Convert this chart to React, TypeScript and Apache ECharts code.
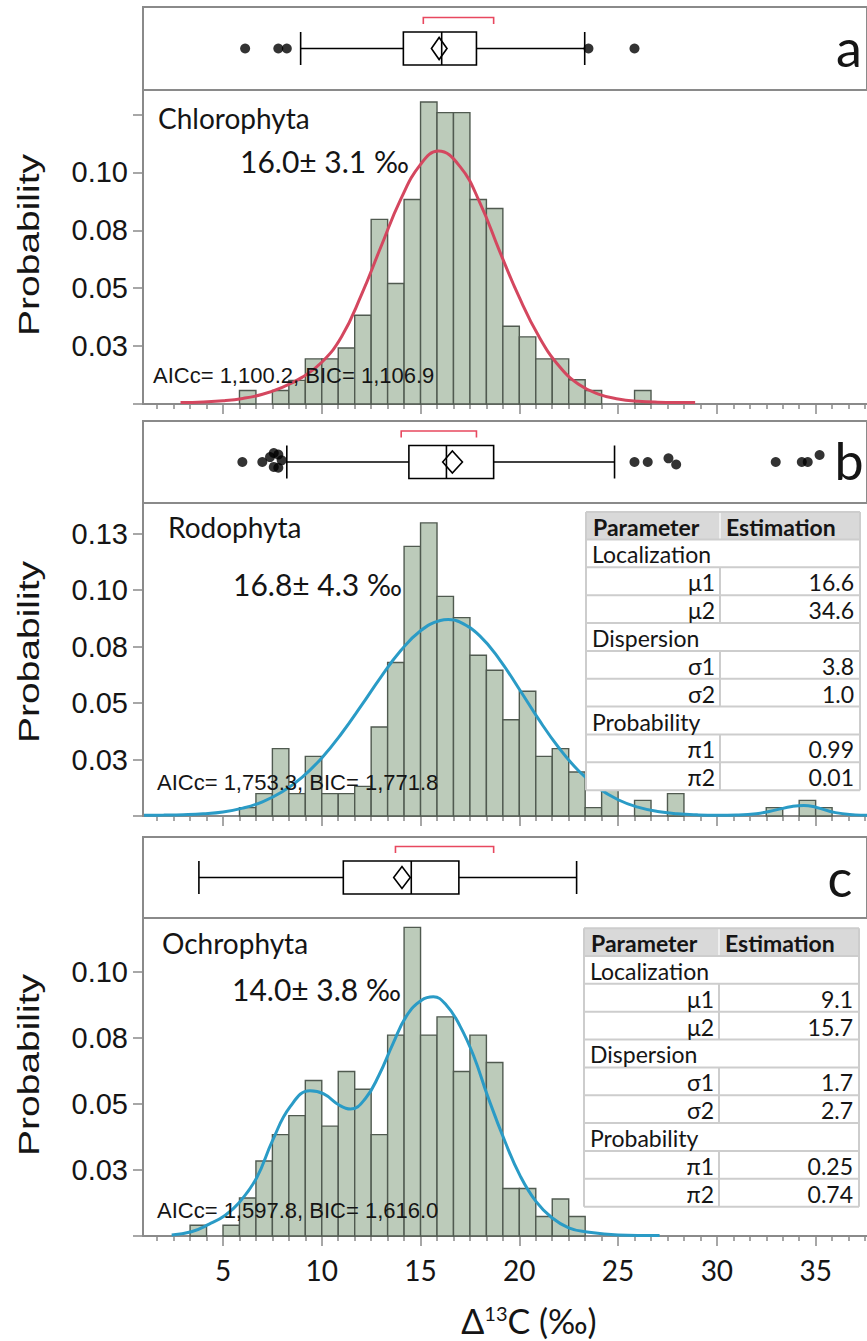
import React, { useEffect, useRef } from 'react';
import * as echarts from 'echarts';

// ---------- shared axis data ----------
const BIN_WIDTH = 5 / 6;
const X_MIN = 0.95;
const X_MAX = 37.6;
const MAJOR_TICKS = [5, 10, 15, 20, 25, 30, 35];
const MINOR_TICKS: number[] = [];
for (let k = 2; k * BIN_WIDTH <= X_MAX; k++) if (k % 6 !== 0) MINOR_TICKS.push(k * BIN_WIDTH);

// ---------- panel a : Chlorophyta ----------
const firstBinA = 7;
const probA = [0.0058, 0, 0.0058, 0.0102, 0.0195, 0.0195, 0.0242, 0.0383, 0.0797, 0.052, 0.0883, 0.1304, 0.1258, 0.1258,
  0.0883, 0.0844, 0.0336, 0.029, 0.0195, 0.0195, 0.0105, 0.0058, 0, 0, 0.0058];
const curveA = [[2.85, 0.0006], [4, 0.0009], [5, 0.0014], [6, 0.0024], [7, 0.0042], [8, 0.0072], [9, 0.0115],
  [10, 0.018], [11, 0.029], [12, 0.047], [13, 0.068], [14, 0.0885], [15, 0.1035], [15.9, 0.1092], [17, 0.1025],
  [18, 0.087], [19, 0.066], [20, 0.046], [21, 0.029], [22, 0.0165], [23, 0.0085], [24, 0.0043], [25, 0.0022],
  [26, 0.0012], [27, 0.0008], [28.9, 0.0006]];
// whiskerLow, q1, median, q3, whiskerHigh, mean, ciLow, ciHigh, shortestHalfLow, shortestHalfHigh
const boxA = [8.93, 14.13, 16.07, 17.83, 23.31, 15.94, 15.55, 16.34, 15.14, 18.7];
const outliersA = [[6.12, 0.5], [7.8, 0.5], [8.23, 0.5], [23.5, 0.5], [25.83, 0.5]];

// ---------- panel b : Rodophyta ----------
const firstBinB = 7;
const probB = [0.0037, 0.0099, 0.0298, 0.0099, 0.0264, 0.0099, 0.0099, 0.0131, 0.0394, 0.0679, 0.1193, 0.1297, 0.0972,
  0.0878, 0.0711, 0.0645, 0.0426, 0.0552, 0.0264, 0.0298, 0.0195, 0.0037, 0.0131, 0, 0.0069, 0, 0.0099, 0, 0, 0, 0, 0,
  0.0037, 0, 0.0069, 0.0037];
const curveB = [[1.0, 0.0003], [2, 0.0004], [3, 0.0006], [4, 0.001], [5, 0.0018], [6, 0.0035], [7, 0.0063],
  [8, 0.0107], [9, 0.0171], [10, 0.0257], [11, 0.0365], [12, 0.0488], [13, 0.0616], [14, 0.0732], [15, 0.082],
  [16, 0.0865], [16.4, 0.0869], [17, 0.0858], [18, 0.0797], [19, 0.0692], [20, 0.0561], [21, 0.0425], [22, 0.0302],
  [23, 0.02], [24, 0.0124], [25, 0.0072], [26, 0.0039], [27, 0.002], [28, 0.001], [29, 0.0005], [30, 0.0003],
  [31, 0.0004], [32, 0.001], [33, 0.0027], [33.8, 0.0042], [34.4, 0.0047], [35, 0.0039], [36, 0.0015], [37, 0.0005],
  [37.6, 0.0003]];
const boxB = [8.23, 14.41, 16.31, 18.7, 24.82, 16.61, 16.12, 17.12, 14.02, 17.83];
const outliersB = [[5.98, 0.5], [6.99, 0.5], [7.38, 0.56], [7.57, 0.61], [7.8, 0.59], [7.57, 0.44], [7.8, 0.43],
  [7.97, 0.52], [25.83, 0.5], [26.5, 0.5], [27.55, 0.545], [27.94, 0.47], [32.98, 0.5], [34.3, 0.5], [34.6, 0.5],
  [35.2, 0.585]];

// ---------- panel c : Ochrophyta ----------
const firstBinC = 4;
const probC = [0.0041, 0, 0.0041, 0.0144, 0.0284, 0.0384, 0.0456, 0.0589, 0.0416, 0.0623, 0.0556, 0.0384, 0.0761,
  0.1169, 0.0761, 0.083, 0.0623, 0.0761, 0.0657, 0.018, 0.018, 0.0074, 0.014, 0.0074];
const curveC = [[2.4, 0.0004], [3.4, 0.0016], [4.3, 0.0045], [5.1, 0.0078], [5.8, 0.0125], [6.7, 0.022],
  [7.5, 0.036], [8.4, 0.049], [9.4, 0.055], [10.1, 0.0538], [10.9, 0.0495], [11.45, 0.0481], [12.2, 0.052],
  [12.9, 0.061], [13.6, 0.0728], [14.3, 0.0835], [15.05, 0.0893], [15.65, 0.0906], [16.3, 0.0875], [17.0, 0.0795],
  [17.7, 0.068], [18.4, 0.0529], [19.3, 0.0353], [20.05, 0.0227], [20.85, 0.013], [21.65, 0.0069], [22.5, 0.0031],
  [23.35, 0.0016], [25, 0.0004], [27.1, 0.0002]];
const boxC = [3.78, 11.09, 14.53, 16.94, 22.9, 14.06, 13.64, 14.48, 13.73, 18.7];
const outliersC: number[][] = [];

// ---------- texts ----------
const groupNames = ['Chlorophyta', 'Rodophyta', 'Ochrophyta'];
const meanTexts = ['16.0± 3.1 ‰', '16.8± 4.3 ‰', '14.0± 3.8 ‰'];
const fitTexts = ['AICc= 1,100.2, BIC= 1,106.9', 'AICc= 1,753.3, BIC= 1,771.8', 'AICc= 1,597.8, BIC= 1,616.0'];
const panelLetters = ['a', 'b', 'c'];
const tableHeader = ['Parameter', 'Estimation'];
const tableGroups = ['Localization', 'Dispersion', 'Probability'];
const tableParams = [['μ1', 'μ2'], ['σ1', 'σ2'], ['π1', 'π2']];
const estimatesB = [['16.6', '34.6'], ['3.8', '1.0'], ['0.99', '0.01']];
const estimatesC = [['9.1', '15.7'], ['1.7', '2.7'], ['0.25', '0.74']];

// ---------- styles ----------
const FRAME = '#8a8a8a';
const BAR_FILL = '#bccbba';
const BAR_STROKE = '#505a50';
const RED = '#d4475f';
const BLUE = '#2a9bc6';
const BRACKET = '#e8485f';
const INK = '#151515';
const SANS = "'Liberation Sans', Arial, sans-serif";
const HUM = "Lato, 'Noto Sans', sans-serif";
const LEFT = 143;
const RIGHT = -3;

const panels = [
  { prob: probA, first: firstBinA, curve: curveA, curveColor: RED, box: boxA, outliers: outliersA,
    boxTop: 7, boxH: 83, histTop: 91, histH: 313, yMax: 0.13515,
    yTicks: [0, 0.025, 0.05, 0.075, 0.1, 0.125], yLabels: [0.025, 0.05, 0.075, 0.1],
    titleY: 118, meanY: 161, fitY: 375, probY: 245, letter: [849, 47], title: [158, 240, 153], table: null as any },
  { prob: probB, first: firstBinB, curve: curveB, curveColor: BLUE, box: boxB, outliers: outliersB,
    boxTop: 421, boxH: 82, histTop: 503, histH: 313, yMax: 0.1385,
    yTicks: [0, 0.025, 0.05, 0.075, 0.1, 0.125], yLabels: [0.025, 0.05, 0.075, 0.1, 0.125],
    titleY: 527, meanY: 584, fitY: 782, probY: 652, letter: [849, 460], title: [168, 233, 157],
    table: { x0: 586, x1: 860, xd: 720, y0: 512, hh: 27.5, rh: 27.85, values: estimatesB } },
  { prob: probC, first: firstBinC, curve: curveC, curveColor: BLUE, box: boxC, outliers: outliersC,
    boxTop: 837, boxH: 81, histTop: 918, histH: 318, yMax: 0.12045,
    yTicks: [0, 0.025, 0.05, 0.075, 0.1], yLabels: [0.025, 0.05, 0.075, 0.1],
    titleY: 943, meanY: 989, fitY: 1210, probY: 1065, letter: [840, 877], title: [162, 232, 157],
    table: { x0: 584, x1: 859, xd: 719, y0: 928.3, hh: 27.7, rh: 27.85, values: estimatesC } },
];

function txt(text: string, x: number, y: number, size: number, family: string, align = 'left', extra: any = {}) {
  return {
    type: 'text', x, y, z: 60, silent: true, ...extra,
    style: {
      text, fontSize: size, fontFamily: family, fill: INK, fontWeight: extra.fontWeight || 'normal',
      align, textAlign: align, verticalAlign: 'middle', textVerticalAlign: 'middle',
    },
  };
}

function seg(x1: number, y1: number, x2: number, y2: number, color: string, w: number) {
  return { type: 'line', z: 55, silent: true, shape: { x1, y1, x2, y2 }, style: { stroke: color, lineWidth: w } };
}

function buildTable(t: any) {
  const els: any[] = [];
  const LINE = '#cdcdcd';
  const rows = 9;
  const yEnd = t.y0 + t.hh + rows * t.rh;
  els.push({ type: 'rect', z: 50, silent: true, shape: { x: t.x0, y: t.y0, width: t.x1 - t.x0, height: yEnd - t.y0 }, style: { fill: '#fff' } });
  els.push({ type: 'rect', z: 51, silent: true, shape: { x: t.x0, y: t.y0, width: t.x1 - t.x0, height: t.hh }, style: { fill: '#d9d9d9' } });
  els.push(seg(t.xd, t.y0, t.xd, t.y0 + t.hh, '#efefef', 2));
  els.push(txt(tableHeader[0], t.x0 + 7, t.y0 + t.hh / 2 + 1, 23, HUM, 'left', { fontWeight: 'bold' }));
  els.push(txt(tableHeader[1], t.xd + 6, t.y0 + t.hh / 2 + 1, 23, HUM, 'left', { fontWeight: 'bold' }));
  els.push(seg(t.x0, t.y0, t.x1, t.y0, LINE, 2));
  els.push(seg(t.x0, t.y0 + t.hh, t.x1, t.y0 + t.hh, LINE, 2));
  let y = t.y0 + t.hh;
  tableGroups.forEach((g, gi) => {
    els.push(txt(g, t.x0 + 6, y + t.rh / 2 + 1, 23, HUM, 'left'));
    y += t.rh;
    els.push(seg(t.x0, y, t.x1, y, LINE, 2));
    tableParams[gi].forEach((p, pi) => {
      els.push(txt(p, t.xd - 5, y + t.rh / 2 + 1, 23, HUM, 'right'));
      els.push(txt(t.values[gi][pi], t.x1 - 6, y + t.rh / 2 + 1, 23, HUM, 'right'));
      els.push(seg(t.xd, y, t.xd, y + t.rh, LINE, 2));
      y += t.rh;
      els.push(seg(t.x0, y, t.x1, y, LINE, 2));
    });
  });
  els.push(seg(t.x0, t.y0, t.x0, yEnd, LINE, 2));
  els.push(seg(t.x1, t.y0, t.x1, yEnd, LINE, 2));
  return els;
}

function renderBox(params: any, api: any) {
  const v = (i: number) => api.value(i);
  const yc = api.coord([v(2), 0.5])[1];
  const px = (i: number) => api.coord([v(i), 0.5])[0];
  const half = 16.5, dh = 11, by = yc - 31, tip = 6.5;
  const ink = { stroke: '#000', lineWidth: 1.6, fill: 'none' };
  return {
    type: 'group',
    children: [
      { type: 'line', shape: { x1: px(0), y1: yc, x2: px(1), y2: yc }, style: ink },
      { type: 'line', shape: { x1: px(3), y1: yc, x2: px(4), y2: yc }, style: ink },
      { type: 'line', shape: { x1: px(0), y1: yc - half, x2: px(0), y2: yc + half }, style: ink },
      { type: 'line', shape: { x1: px(4), y1: yc - half, x2: px(4), y2: yc + half }, style: ink },
      { type: 'rect', shape: { x: px(1), y: yc - half, width: px(3) - px(1), height: 2 * half }, style: { ...ink, fill: '#fff' } },
      { type: 'line', shape: { x1: px(2), y1: yc - half, x2: px(2), y2: yc + half }, style: ink },
      { type: 'polygon', shape: { points: [[px(6), yc], [px(5), yc - dh], [px(7), yc], [px(5), yc + dh]] }, style: ink },
      { type: 'polyline', shape: { points: [[px(8), by + tip], [px(8), by], [px(9), by], [px(9), by + tip]] },
        style: { stroke: BRACKET, lineWidth: 1.6, fill: 'none' } },
    ],
  };
}

function renderBars(params: any, api: any) {
  const h = api.value(2);
  if (!h) return null;
  const p0 = api.coord([api.value(0), h]);
  const p1 = api.coord([api.value(1), 0]);
  return {
    type: 'rect',
    shape: { x: p0[0], y: p0[1], width: p1[0] - p0[0], height: p1[1] - p0[1] },
    style: { fill: BAR_FILL, stroke: BAR_STROKE, lineWidth: 1.4 },
  };
}

function buildOption() {
  const grid: any[] = [], xAxis: any[] = [], yAxis: any[] = [], series: any[] = [], graphic: any[] = [];
  panels.forEach((p, i) => {
    const gBox = grid.length;
    grid.push({ left: LEFT, right: RIGHT, top: p.boxTop, height: p.boxH, show: true, borderColor: FRAME, borderWidth: 2, backgroundColor: '#fff' });
    const gHist = grid.length;
    grid.push({ left: LEFT, right: RIGHT, top: p.histTop, height: p.histH });

    const xBox = xAxis.length;
    xAxis.push({ type: 'value', gridIndex: gBox, min: X_MIN, max: X_MAX, show: false });
    const xHist = xAxis.length;
    xAxis.push({
      type: 'value', gridIndex: gHist, position: 'bottom', min: X_MIN, max: X_MAX,
      axisLine: { show: true, onZero: false, lineStyle: { color: FRAME, width: 2 } },
      axisTick: { show: true, customValues: MINOR_TICKS, length: 5, lineStyle: { color: FRAME, width: 1.5 } },
      axisLabel: { show: false }, splitLine: { show: false },
    });
    xAxis.push({
      type: 'value', gridIndex: gHist, position: 'bottom', min: X_MIN, max: X_MAX,
      axisLine: { show: false, onZero: false },
      axisTick: { show: true, customValues: MAJOR_TICKS, length: 10, lineStyle: { color: FRAME, width: 1.5 } },
      axisLabel: {
        show: i === 2, customValues: MAJOR_TICKS, fontSize: 28, fontFamily: HUM, color: INK, margin: 20,
        formatter: (val: number) => String(val),
      },
      splitLine: { show: false },
    });

    const yBox = yAxis.length;
    yAxis.push({ type: 'value', gridIndex: gBox, min: 0, max: 1, show: false });
    const yHist = yAxis.length;
    yAxis.push({
      type: 'value', gridIndex: gHist, min: 0, max: p.yMax, interval: 0.025,
      axisLine: { show: true, onZero: false, lineStyle: { color: FRAME, width: 2 } },
      axisTick: { show: true, customValues: p.yTicks, length: 10, lineStyle: { color: FRAME, width: 1.5 } },
      axisLabel: {
        customValues: p.yLabels, fontSize: 29, fontFamily: SANS, color: INK, margin: 15,
        formatter: (val: number) => (Math.round(val * 100) / 100).toFixed(2),
      },
      splitLine: { show: false },
    });

    series.push({
      type: 'custom', xAxisIndex: xHist, yAxisIndex: yHist, z: 2, silent: true,
      data: p.prob.map((v, k) => [(p.first + k) * BIN_WIDTH, (p.first + k + 1) * BIN_WIDTH, v]),
      renderItem: renderBars,
    });
    series.push({
      type: 'line', xAxisIndex: xHist, yAxisIndex: yHist, z: 3, silent: true,
      data: p.curve, smooth: 0.45, showSymbol: false,
      lineStyle: { color: p.curveColor, width: 3 },
    });
    series.push({
      type: 'custom', xAxisIndex: xBox, yAxisIndex: yBox, z: 3, silent: true,
      data: [p.box], renderItem: renderBox,
    });
    if (p.outliers.length) {
      series.push({
        type: 'scatter', xAxisIndex: xBox, yAxisIndex: yBox, z: 4, silent: true,
        data: p.outliers, symbolSize: 10, itemStyle: { color: '#000' },
      });
    }

    // texts
    graphic.push(txt(groupNames[i], p.title[0], p.titleY, 28, HUM));
    graphic.push(txt(meanTexts[i], p.title[1], p.meanY, 30, HUM));
    graphic.push(txt(fitTexts[i], p.title[2], p.fitY, 22, SANS));
    graphic.push(txt(panelLetters[i], p.letter[0], p.letter[1], 52, HUM, 'center'));
    graphic.push({
      type: 'text', x: 29, y: p.probY, rotation: Math.PI / 2, scaleX: 1.3, z: 60, silent: true,
      style: { text: 'Probability', fontSize: 30, fontFamily: SANS, fill: INK, align: 'center', textAlign: 'center', verticalAlign: 'middle', textVerticalAlign: 'middle' },
    });
    if (p.table) graphic.push(...buildTable(p.table));
  });

  graphic.push({
    type: 'text', x: 529, y: 1320, z: 60, silent: true,
    style: {
      text: '{a|Δ}{s|13}{a|C (‰)}', align: 'center', textAlign: 'center', verticalAlign: 'middle', textVerticalAlign: 'middle',
      rich: {
        a: { fontSize: 34, fontFamily: HUM, fill: INK, lineHeight: 34 },
        s: { fontSize: 20, fontFamily: HUM, fill: INK, lineHeight: 20, verticalAlign: 'top' },
      },
    },
  });

  return { animation: false, backgroundColor: '#fff', grid, xAxis, yAxis, series, graphic: { elements: graphic } };
}

export default function App() {
  const ref = useRef<HTMLDivElement>(null);
  useEffect(() => {
    const chart = echarts.init(ref.current!, null, { renderer: 'svg' });
    chart.setOption(buildOption() as any);
    return () => chart.dispose();
  }, []);
  return <div ref={ref} style={{ position: 'absolute', left: 0, top: 0, width: 867, height: 1341, background: '#fff' }} />;
}
